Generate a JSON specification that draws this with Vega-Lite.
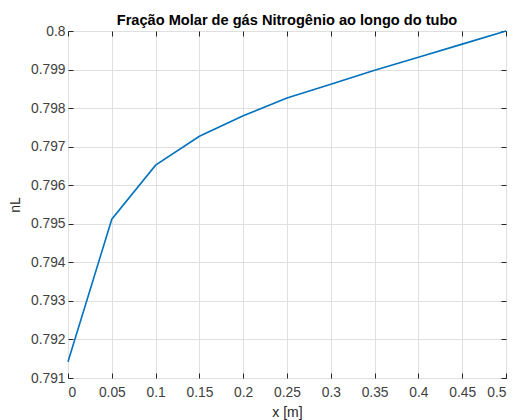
{
  "$schema": "https://vega.github.io/schema/vega-lite/v6.json",
  "autosize": "none",
  "padding": {"left": 68, "top": 31, "right": 10, "bottom": 42},
  "width": 438,
  "height": 347,
  "background": "white",
  "title": {"text": "Fração Molar de gás Nitrogênio ao longo do tubo", "font": "Liberation Sans", "fontSize": 14.6, "fontWeight": "bold", "color": "#000000", "offset": -4},
  "config": {
    "view": {"stroke": "#262626", "strokeWidth": 1},
    "axis": {"labelFont": "Liberation Sans", "labelFontSize": 13.8, "labelColor": "#404040", "titleFont": "Liberation Sans", "titleFontSize": 14, "titleFontWeight": "normal", "titleColor": "#262626", "gridColor": "#dfdfdf", "gridWidth": 1, "domain": false, "tickColor": "#262626", "tickSize": -5, "labelPadding": 12}
  },
  "data": {"values": [
    {"x": 0.0, "nL": 0.79142},
    {"x": 0.05, "nL": 0.79512},
    {"x": 0.1, "nL": 0.79652},
    {"x": 0.15, "nL": 0.79727},
    {"x": 0.2, "nL": 0.7978},
    {"x": 0.25, "nL": 0.79826},
    {"x": 0.3, "nL": 0.79862},
    {"x": 0.35, "nL": 0.79898},
    {"x": 0.4, "nL": 0.79932},
    {"x": 0.45, "nL": 0.79966},
    {"x": 0.5, "nL": 0.8}
  ]},
  "layer": [
    {
      "mark": {"type": "line", "color": "#0072BD", "strokeWidth": 1.6},
      "encoding": {
        "x": {"field": "x", "type": "quantitative", "scale": {"domain": [0, 0.5], "nice": false, "zero": false},
          "axis": {"orient": "bottom", "title": "x [m]", "values": [0, 0.05, 0.1, 0.15, 0.2, 0.25, 0.3, 0.35, 0.4, 0.45, 0.5], "format": ".2~f", "titlePadding": 7}},
        "y": {"field": "nL", "type": "quantitative", "scale": {"domain": [0.791, 0.8], "nice": false, "zero": false},
          "axis": {"orient": "left", "title": "nL", "values": [0.791, 0.792, 0.793, 0.794, 0.795, 0.796, 0.797, 0.798, 0.799, 0.8], "format": ".3~f", "titlePadding": 8, "labelPadding": 8}}
      }
    },
    {
      "mark": {"type": "line", "opacity": 0},
      "encoding": {
        "x": {"field": "x", "type": "quantitative", "scale": {"domain": [0, 0.5], "nice": false, "zero": false},
          "axis": {"orient": "top", "title": null, "labels": false, "grid": false, "labelPadding": 0, "values": [0, 0.05, 0.1, 0.15, 0.2, 0.25, 0.3, 0.35, 0.4, 0.45, 0.5]}},
        "y": {"field": "nL", "type": "quantitative", "scale": {"domain": [0.791, 0.8], "nice": false, "zero": false},
          "axis": {"orient": "right", "title": null, "labels": false, "grid": false, "labelPadding": 0, "values": [0.791, 0.792, 0.793, 0.794, 0.795, 0.796, 0.797, 0.798, 0.799, 0.8]}}
      }
    }
  ],
  "resolve": {"axis": {"x": "independent", "y": "independent"}}
}
